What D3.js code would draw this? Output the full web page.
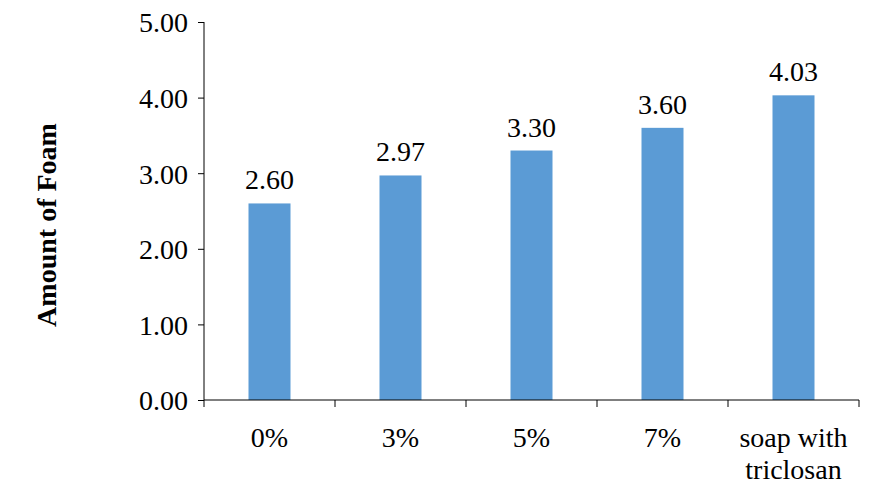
<!DOCTYPE html>
<html><head><meta charset="utf-8">
<script src="https://cdn.jsdelivr.net/npm/d3@7/dist/d3.min.js"></script>
<style>body{margin:0;background:#fff}text{font-family:"Liberation Serif","DejaVu Serif",serif !important}</style>
</head><body><svg id="c" width="874" height="503"></svg>
<script>
const categories = ["0%","3%","5%","7%","soap with|triclosan"];
const values = [2.60,2.97,3.30,3.60,4.03];
const yTicks = [0,1,2,3,4,5];

const svg = d3.select("#c");
const x = d3.scaleBand().domain(categories).range([204,859]);
const y = d3.scaleLinear().domain([0,5]).range([400,22]);
const bw = 42;
const FS = 28;

svg.selectAll("rect.bar").data(values).join("rect")
  .attr("x",(d,i)=>x(categories[i])+x.bandwidth()/2-bw/2)
  .attr("y",d=>y(d)).attr("width",bw).attr("height",d=>y(0)-y(d))
  .attr("fill","#5B9BD5");

svg.selectAll("text.val").data(values).join("text")
  .attr("x",(d,i)=>x(categories[i])+x.bandwidth()/2)
  .attr("y",d=>y(d)-14).attr("text-anchor","middle")
  .attr("font-size",FS).text(d=>d.toFixed(2));

const ya = svg.append("g").attr("transform","translate(204,0)")
  .call(d3.axisLeft(y).tickValues(yTicks).tickFormat(d=>d.toFixed(2)).tickSize(6).tickPadding(10));
ya.selectAll("text").attr("font-size",FS).attr("fill","#000").attr("dy","0.35em");
ya.select(".domain").attr("d","M0,22V400");

const xg = svg.append("g");
xg.append("line").attr("x1",204).attr("x2",859).attr("y1",400).attr("y2",400).attr("stroke","#000");
const bounds = categories.map(c=>x(c)).concat([x.range()[1]]);
xg.selectAll("line.t").data(bounds).join("line")
  .attr("x1",d=>d).attr("x2",d=>d).attr("y1",400).attr("y2",407).attr("stroke","#000");
categories.forEach(c=>{
  const lines=c.split("|");
  const t=svg.append("text").attr("text-anchor","middle").attr("font-size",FS)
    .attr("x",x(c)+x.bandwidth()/2).attr("y",447);
  lines.forEach((l,i)=>t.append("tspan").attr("x",x(c)+x.bandwidth()/2).attr("dy",i?32:0).text(l));
});

svg.append("text").attr("transform","translate(56,225) rotate(-90)")
  .attr("text-anchor","middle").attr("font-size",FS).attr("font-weight","bold").text("Amount of Foam");
</script></body></html>
